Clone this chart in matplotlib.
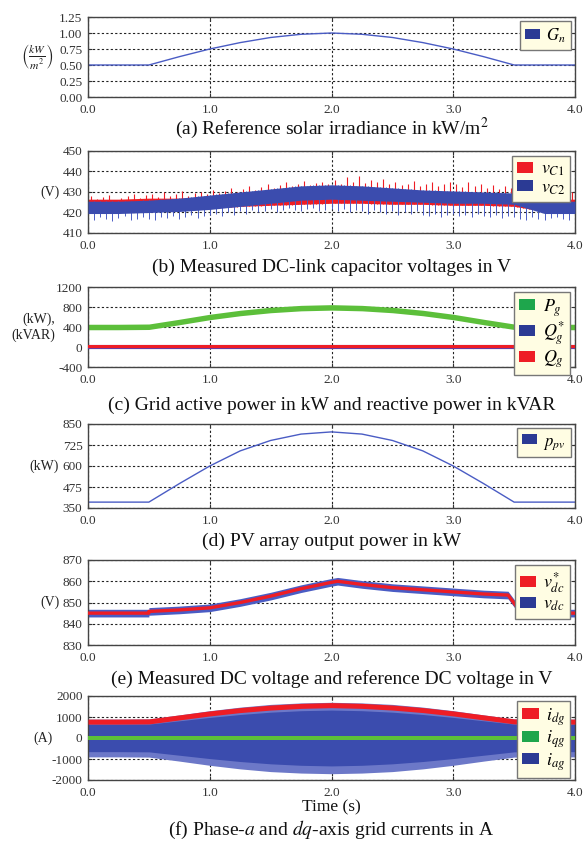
import numpy as np
import matplotlib
matplotlib.use('Agg')
import matplotlib.pyplot as plt
from matplotlib.patches import Patch

plt.rcParams['font.family'] = ['Liberation Serif', 'DejaVu Serif']
plt.rcParams['mathtext.fontset'] = 'stix'

# time base used by most traces (s)
t_q = [0.0, 0.25, 0.5, 0.75, 1.0, 1.25, 1.5, 1.75, 2.0,
       2.25, 2.5, 2.75, 3.0, 3.25, 3.5, 3.75, 4.0]

# (a) irradiance
g_n = [0.50, 0.50, 0.50, 0.63, 0.75, 0.85, 0.93, 0.98, 1.00,
       0.98, 0.93, 0.85, 0.75, 0.63, 0.50, 0.50, 0.50]

# (b) capacitor voltages, band edges + spikes (spikes every 50 ms)
vc2_lo = [419.5, 419.5, 420, 420.5, 421.5, 423, 424.5, 426, 426.5,
          426, 425.5, 425, 424.5, 424.5, 424, 419.5, 419.5]
vc2_hi = [425.5, 425.5, 426, 427, 428.5, 430, 431.5, 433, 433.5,
          433, 432, 431, 430.5, 430, 429.5, 425.5, 425.5]
vc1_lo = [420.5, 420.5, 421, 421.5, 422, 423, 423.5, 424, 424.5,
          424.5, 424, 424, 423.5, 423.5, 423, 420.5, 420.5]
vc1_hi = [426.5, 426.5, 427, 427, 427.5, 428.5, 429.5, 430, 430.5,
          430.5, 430, 429.5, 429.5, 429, 428.5, 426.5, 426.5]
vc1_spikes = [428, 426.5, 427.5, 428.5, 426, 427, 428, 429, 427, 428.5,
              429, 427.5, 430, 428, 429, 430.5, 428, 429.5, 430, 429,
              431, 429.5, 430.5, 432, 430, 431.5, 433, 431, 432.5, 434,
              432, 433.5, 435, 433, 434, 435.5, 433.5, 434.5, 435, 434,
              436, 434, 437.5, 435, 438, 434.5, 436, 435, 436.5, 434,
              435, 433.5, 434, 435.5, 433, 434, 435, 433, 434, 435,
              434, 432.5, 435, 433, 434, 432, 433.5, 431.5, 433, 432,
              431, 429.5, 431, 430, 432, 429, 430.5, 431, 429, 430]
vc2_spikes = [416.5, 418, 417, 416, 417.5, 418.5, 416.5, 417, 418, 417,
              416.5, 418, 417.5, 418.5, 417, 418, 419, 417.5, 418.5, 419,
              419.5, 418.5, 420, 419, 420.5, 419.5, 421, 420, 420.5, 421.5,
              420, 421, 422, 421, 420.5, 421.5, 422, 420.5, 421, 421.5,
              420.5, 421.5, 420, 421, 420.5, 419.5, 421, 420, 419.5, 420.5,
              419, 420, 419.5, 420.5, 419, 418.5, 419.5, 418, 419, 419.5,
              418.5, 419, 418, 419.5, 418.5, 418, 419, 417.5, 418.5, 418,
              417, 416.5, 418, 417, 416.5, 417.5, 418, 417, 416.5, 418]

# (c) grid powers
p_g = [400, 400, 405, 500, 600, 680, 740, 778, 792,
       778, 740, 680, 600, 500, 405, 400, 400]
p_g_ripple = 55
q_g_ref = [0] * len(t_q)
q_g = [12] * len(t_q)
q_g_ripple = 28

# (d) PV power
p_pv = [385, 385, 385, 495, 600, 690, 752, 790, 803,
        790, 752, 690, 600, 495, 385, 385, 385]

# (e) DC voltage
t_e = [0.0, 0.5, 0.5, 0.75, 1.0, 1.25, 1.5, 1.75, 2.0, 2.05,
       2.25, 2.5, 2.75, 3.0, 3.25, 3.45, 3.56, 4.0]
vdc_ref = [845, 845, 845.8, 846.5, 847.5, 850, 853, 856.5, 859.5, 860,
           858.5, 857, 856, 855, 854, 853.5, 845, 845]
vdc_ripple = 1.8

# (f) currents
i_dg = [780, 780, 790, 980, 1170, 1330, 1450, 1530, 1565,
        1530, 1450, 1330, 1170, 980, 790, 780, 780]
i_dg_ripple = 120
i_ag_core = [650, 650, 660, 820, 980, 1120, 1230, 1300, 1330,
             1300, 1230, 1120, 980, 820, 660, 650, 650]
i_ag_peak = [900, 900, 910, 1100, 1300, 1470, 1600, 1670, 1700,
             1670, 1600, 1470, 1300, 1100, 910, 900, 900]
i_qg = [0] * len(t_q)
i_qg_ripple = 100

BLUE = '#3b4cae'
LBLUE = '#4a5cc4'
RED = '#ee1d25'
GREEN = '#5cbf3a'
LGREEN = '#1ea64c'
NAVY = '#2b3a94'

W, H = 587, 844
L, R = 88, 575


def make_ax(top, bot):
    return fig.add_axes([L / W, 1 - bot / H, (R - L) / W, (bot - top) / H])


def style(ax, yticks, fmt, unit, unit_x, ufs=10):
    ax.set_xlim(0, 4)
    ax.set_ylim(yticks[0], yticks[-1])
    ax.set_xticks([0, 1, 2, 3, 4])
    ax.set_xticklabels(['0.0', '1.0', '2.0', '3.0', '4.0'])
    ax.set_yticks(yticks)
    ax.set_yticklabels([fmt % v for v in yticks])
    ax.set_axisbelow(True)
    ax.grid(True, color='#222222', linestyle=(0, (2, 2)), linewidth=0.8)
    ax.tick_params(direction='in', length=3, labelsize=9.5, colors='#333333',
                   top=True, right=True, pad=4)
    ax.tick_params(axis='x', pad=5)
    for s in ax.spines.values():
        s.set_color('#444444')
        s.set_linewidth(1.0)
    ax.text((unit_x - L) / (R - L), 0.5, unit, transform=ax.transAxes,
            ha='right', va='center', fontsize=ufs, color='#222222')


def legend(ax, items, fs=12):
    handles = [Patch(facecolor=c, edgecolor='none', label=lab) for lab, c in items]
    lg = ax.legend(handles=handles, loc='upper right', fontsize=fs,
                   handlelength=0.9, handleheight=0.55, handletextpad=0.4,
                   borderaxespad=0.25, borderpad=0.3, labelspacing=0.05,
                   fancybox=False, framealpha=1)
    lg.get_frame().set_facecolor('#fffde3')
    lg.get_frame().set_edgecolor('#777777')
    lg.get_frame().set_linewidth(1.0)
    lg.set_zorder(10)


def caption(y, txt):
    fig.text((L + R) / 2 / W, 1 - y / H, txt, ha='center', va='center',
             fontsize=14, color='#111111')


fig = plt.figure(figsize=(W / 100, H / 100), dpi=100)

# (a)
ax = make_ax(17, 97)
ax.plot(t_q, g_n, color=LBLUE, lw=1.0)
style(ax, [0, 0.25, 0.5, 0.75, 1.0, 1.25], '%.2f',
      r'$\left(\frac{kW}{m^2}\right)$', 54, ufs=12)
legend(ax, [(r'$G_n$', NAVY)])
caption(128, r'(a) Reference solar irradiance in kW/m$^2$')

# (b)
ax = make_ax(151, 233)
ts1 = np.arange(len(vc1_spikes)) * 0.05 + 0.025
ts2 = np.arange(len(vc2_spikes)) * 0.05 + 0.05
ax.fill_between(t_q, vc1_lo, vc1_hi, color=RED, lw=0, zorder=2)
ax.vlines(ts1, np.interp(ts1, t_q, vc1_lo), vc1_spikes, color=RED, lw=0.8, zorder=2)
ax.vlines(ts2, vc2_spikes, np.interp(ts2, t_q, vc2_hi), color=LBLUE, lw=0.7, zorder=3)
ax.fill_between(t_q, vc2_lo, vc2_hi, color=BLUE, lw=0, zorder=3)
style(ax, [410, 420, 430, 440, 450], '%d', '(V)', 60)
legend(ax, [(r'$v_{C1}$', RED), (r'$v_{C2}$', NAVY)], fs=13)
caption(267, '(b) Measured DC-link capacitor voltages in V')

# (c)
ax = make_ax(287, 367)
pg = np.array(p_g)
ax.fill_between(t_q, pg - p_g_ripple, pg + p_g_ripple, color=GREEN, lw=0, zorder=2)
ax.plot(t_q, q_g_ref, color='#6a3aa0', lw=3.0, zorder=3)
qg = np.array(q_g)
ax.fill_between(t_q, qg - q_g_ripple, qg + q_g_ripple, color=RED, lw=0, zorder=4)
style(ax, [-400, 0, 400, 800, 1200], '%d', '(kW),\n(kVAR)', 55)
legend(ax, [(r'$P_g$', LGREEN), (r'$Q_g^{*}$', NAVY), (r'$Q_g$', RED)], fs=13)
caption(405, '(c) Grid active power in kW and reactive power in kVAR')

# (d)
ax = make_ax(424, 508)
ax.plot(t_q, p_pv, color=LBLUE, lw=1.0)
style(ax, [350, 475, 600, 725, 850], '%d', '(kW)', 59)
legend(ax, [(r'$p_{pv}$', NAVY)])
caption(541, '(d) PV array output power in kW')

# (e)
ax = make_ax(560, 645)
vr = np.array(vdc_ref)
ax.fill_between(t_e, vr - vdc_ripple, vr + vdc_ripple, color=LBLUE, lw=0, zorder=2)
ax.plot(t_e, vdc_ref, color=RED, lw=2.4, zorder=3)
style(ax, [830, 840, 850, 860, 870], '%d', '(V)', 60)
legend(ax, [(r'$v_{dc}^{*}$', RED), (r'$v_{dc}$', NAVY)], fs=13)
caption(679, '(e) Measured DC voltage and reference DC voltage in V')

# (f)
ax = make_ax(696, 780)
pk = np.array(i_ag_peak)
core = np.array(i_ag_core)
ax.fill_between(t_q, -pk, pk, color='#6c78c8', lw=0, zorder=2)
ax.fill_between(t_q, -core, core, color=BLUE, lw=0, zorder=2)
iq = np.array(i_qg)
ax.fill_between(t_q, iq - i_qg_ripple, iq + i_qg_ripple, color=GREEN, lw=0, zorder=3)
idg = np.array(i_dg)
ax.fill_between(t_q, idg - i_dg_ripple, idg + i_dg_ripple, color=RED, lw=0, zorder=3)
style(ax, [-2000, -1000, 0, 1000, 2000], '%d', '(A)', 53)
legend(ax, [(r'$i_{dg}$', RED), (r'$i_{qg}$', LGREEN), (r'$i_{ag}$', NAVY)], fs=13)
fig.text((L + R) / 2 / W, 1 - 807 / H, 'Time (s)', ha='center', va='center',
         fontsize=12.5, color='#111111')
caption(830, r'(f) Phase-$a$ and $dq$-axis grid currents in A')

fig.savefig('out.png', dpi=100)
